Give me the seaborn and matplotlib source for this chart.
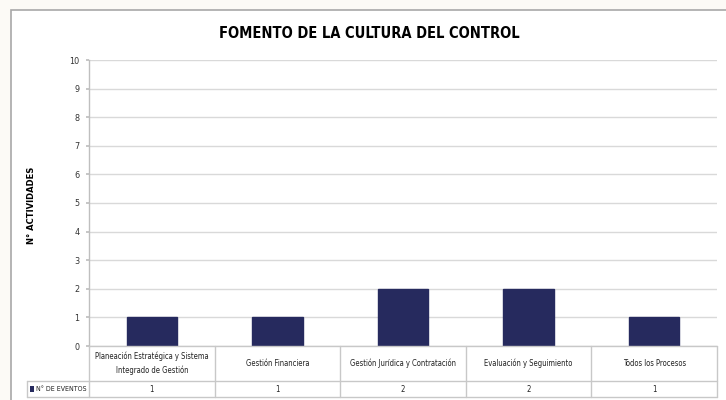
import matplotlib
matplotlib.use("Agg")
import matplotlib.pyplot as plt
import matplotlib.transforms as mtransforms
from matplotlib.lines import Line2D
from matplotlib.patches import Rectangle
import seaborn as sns
import pandas as pd

categories = ["Planeación Estratégica y Sistema\nIntegrado de Gestión",
              "Gestión Financiera",
              "Gestión Jurídica y Contratación",
              "Evaluación y Seguimiento",
              "Todos los Procesos"]
values = [1, 1, 2, 2, 1]
series_name = "N° DE EVENTOS"
title = "FOMENTO DE LA CULTURA DEL CONTROL"
ylabel = "N° ACTIVIDADES"
yticks = list(range(0, 11))

sns.set_theme(style="white")
fam = ["DejaVu Sans"]
plt.rcParams["font.family"] = fam
plt.rcParams["font.stretch"] = "condensed"
ST = "condensed"

W, H = 726, 400
fig = plt.figure(figsize=(W / 100, H / 100), dpi=100)
fig.patch.set_facecolor("#FCFAF6")
# inner white panel with border
fig.patches.append(Rectangle((11 / W, -0.1), 1, 1.1 - 10 / H, transform=fig.transFigure,
                             facecolor="white", edgecolor="#A8A8A8", linewidth=1.2, zorder=-10))

L, R, T, B = 89, 717, 60, 346
ax = fig.add_axes([L / W, 1 - B / H, (R - L) / W, (B - T) / H])
df = pd.DataFrame({"cat": categories, "val": values})
bar_color = "#262A5E"
sns.barplot(data=df, x="cat", y="val", ax=ax, color=bar_color, width=0.4,
            saturation=1, edgecolor=bar_color, zorder=3)
ax.set_ylim(0, 10)
ax.set_yticks(yticks)
ax.set_yticklabels([str(v) for v in yticks], fontsize=6.5, color="#333333", fontstretch=ST)
ax.set_xticks([])
ax.set_xlabel("")
ax.set_ylabel("")
ax.set_xlim(-0.5, len(categories) - 0.5)
ax.grid(axis="y", color="#D9D9D9", linewidth=1, zorder=0)
ax.set_axisbelow(True)
ax.set_facecolor("none")
for s in ["top", "right", "bottom"]:
    ax.spines[s].set_visible(False)
ax.spines["left"].set_color("#BFBFBF")
ax.spines["left"].set_linewidth(1)
ax.tick_params(axis="y", length=2, color="#BFBFBF", pad=5, direction="out", left=True)

fig.text(369 / W, 1 - 33 / H, title, ha="center", va="center", fontsize=10.5,
         fontweight="bold", color="#000000", family=fam, fontstretch=ST)
fig.text(31 / W, 1 - 205 / H, ylabel, ha="center", va="center", rotation=90,
         fontsize=6, fontweight="bold", color="#000000", family=fam, fontstretch="normal")

# data table
line_c = "#C8C8C8"
blend = mtransforms.blended_transform_factory(ax.transData, fig.transFigure)
r0, r1, r2 = 1 - B / H, 1 - 381 / H, 1 - 397 / H
def fl(x0, y0, x1, y1):
    fig.add_artist(Line2D([x0, x1], [y0, y1], transform=fig.transFigure,
                          color=line_c, linewidth=1, zorder=5))
fl(L / W, r0, R / W, r0)
fl(27 / W, r1, R / W, r1)
fl(27 / W, r2, R / W, r2)
fl(27 / W, r1, 27 / W, r2)
n = len(categories)
step = (R - L) / n
for i in range(n + 1):
    x = (L + i * step) / W
    fl(x, r0, x, r2)
for i, (c, v) in enumerate(zip(categories, values)):
    fig.text(i, (r0 + r1) / 2, c, transform=blend, ha="center", va="center",
             fontsize=5.5, color="#222222", family=fam, fontstretch=ST, linespacing=1.6)
    fig.text(i, (r1 + r2) / 2, str(v), transform=blend, ha="center", va="center",
             fontsize=5.5, color="#222222", family=fam, fontstretch=ST)
fig.patches.append(Rectangle((30 / W, 1 - 392 / H), 4 / W, 6 / H, transform=fig.transFigure,
                             facecolor=bar_color, edgecolor="none", zorder=6))
fig.text(36 / W, (r1 + r2) / 2, series_name, ha="left", va="center",
         fontsize=5, color="#222222", family=fam, fontstretch=ST)

fig.savefig("out.png", dpi=100)
